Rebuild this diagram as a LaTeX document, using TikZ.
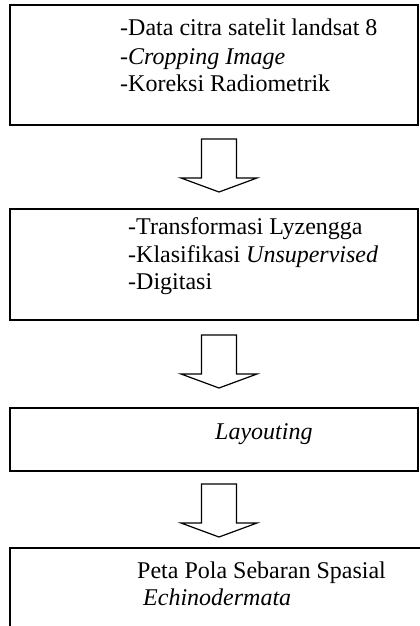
\documentclass[tikz,border=0pt]{standalone}
\usepackage{fontspec}
\setmainfont{Liberation Serif}
\begin{document}
\begin{tikzpicture}[x=1pt,y=-1pt,
  box/.style={draw, line width=1.6pt, inner sep=0pt, anchor=north west},
  txt/.style={anchor=base west, inner sep=0pt, font=\fontsize{24}{28}\selectfont},
  blockarrow/.pic={\draw[line width=1.2pt, line join=miter]
      (-17.5,0) -- (17.5,0) -- (17.5,39) -- (38,39) -- (0,53)
      -- (-38,39) -- (-17.5,39) -- cycle;}]
  \useasboundingbox (0,0) rectangle (420,626);
  \clip (0,0) rectangle (420,626);

  % process boxes
  \node[box, minimum width=408pt, minimum height=120pt] (b1) at (9,4) {};
  \node[box, minimum width=408pt, minimum height=111pt] (b2) at (9,208) {};
  \node[box, minimum width=408pt, minimum height=63pt]  (b3) at (9,407) {};
  \node[box, minimum width=430pt, minimum height=120pt] (b4) at (9,547) {};

  % box contents
  \node[txt] (t1a) at (120,36) {-Data citra satelit landsat 8};
  \node[txt] (t1b) at (120,64) {-\textit{Cropping Image}};
  \node[txt] (t1c) at (120,92) {-Koreksi Radiometrik};

  \node[txt] (t2a) at (128,234) {-Transformasi Lyzengga};
  \node[txt] (t2b) at (128,262) {-Klasifikasi \textit{Unsupervised}};
  \node[txt] (t2c) at (128,289) {-Digitasi};

  \node[txt] (t3) at (215,439) {\textit{Layouting}};

  \node[txt] (t4a) at (137,578) {Peta Pola Sebaran Spasial};
  \node[txt] (t4b) at (143,605) {\textit{Echinodermata}};

  % block arrows between the steps
  \pic at (219,139) {blockarrow};
  \pic at (219,335) {blockarrow};
  \pic at (219,484) {blockarrow};
\end{tikzpicture}
\end{document}
